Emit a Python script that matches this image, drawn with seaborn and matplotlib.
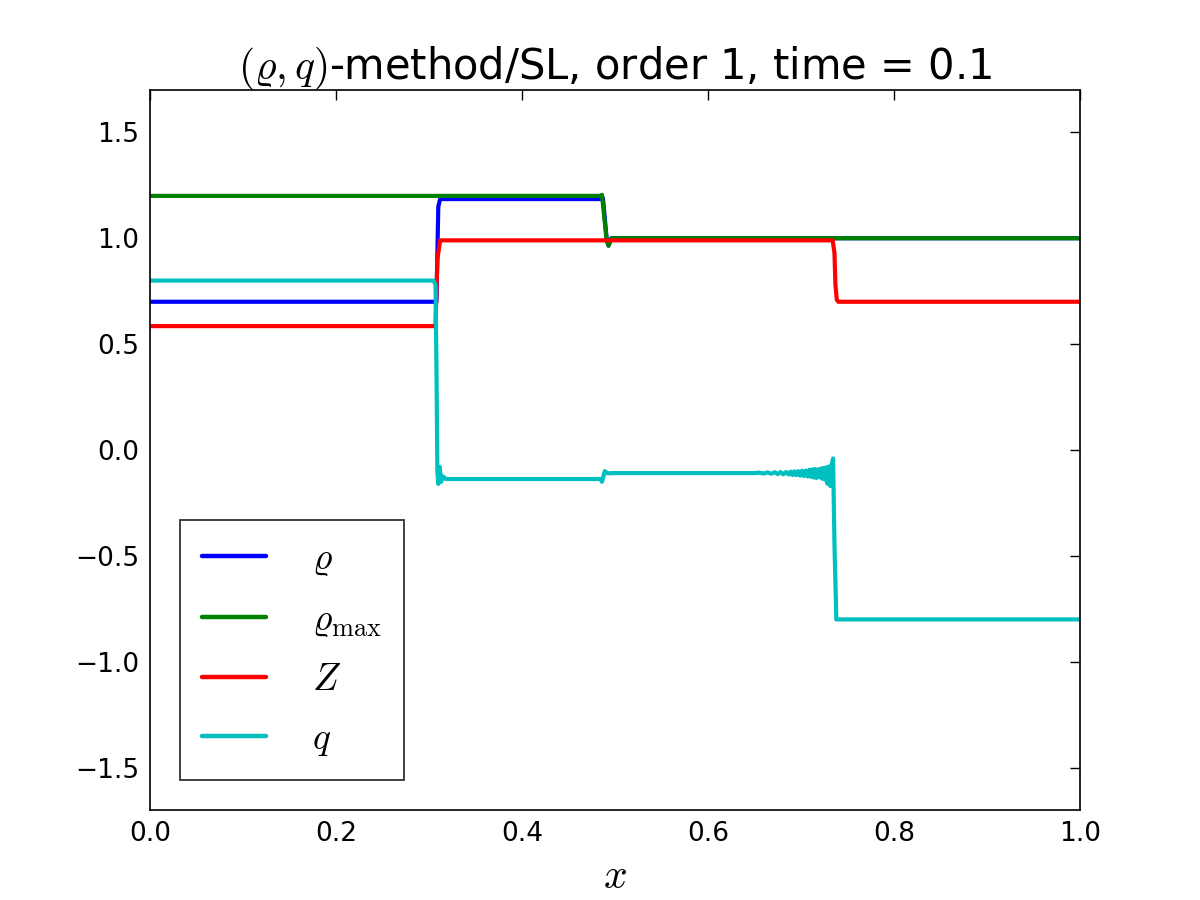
import pandas as pd
import seaborn as sns
import matplotlib
matplotlib.use("Agg")
import matplotlib.pyplot as plt

# rho
rho_x = [0.0, 0.308, 0.310, 0.312, 0.484, 0.487, 0.491, 0.493, 0.496, 1.0]
rho_y = [0.70, 0.70, 1.15, 1.185, 1.185, 1.19, 1.0, 0.965, 1.0, 1.0]

# rho_max
rmax_x = [0.0, 0.484, 0.486, 0.491, 0.493, 0.496, 1.0]
rmax_y = [1.20, 1.20, 1.205, 0.99, 0.965, 1.0, 1.0]

# Z
z_x = [0.0, 0.307, 0.309, 0.312, 0.734, 0.736, 0.737, 0.7385, 0.740, 1.0]
z_y = [0.585, 0.585, 0.90, 0.99, 0.99, 0.93, 0.78, 0.71, 0.70, 0.70]

# q
q_x = [0.0, 0.305, 0.307, 0.308, 0.309, 0.310, 0.3115, 0.313, 0.315, 0.318, 0.322,
       0.484, 0.486, 0.489, 0.492, 0.50, 0.65,
       0.655, 0.660, 0.664, 0.668, 0.672, 0.675, 0.678, 0.681, 0.684, 0.687,
       0.689, 0.691, 0.693, 0.695, 0.697, 0.699, 0.701, 0.703, 0.705, 0.707,
       0.709, 0.7105, 0.712, 0.7135, 0.715, 0.7165, 0.718, 0.7195, 0.721, 0.7225,
       0.724, 0.7255, 0.727, 0.7285, 0.730, 0.7315, 0.733, 0.7345, 0.736, 0.738, 1.0]
q_y = [0.80, 0.80, 0.78, 0.40, -0.10, -0.16, -0.08, -0.15, -0.125, -0.137, -0.137,
       -0.137, -0.15, -0.10, -0.11, -0.109, -0.109,
       -0.107, -0.111, -0.106, -0.112, -0.105, -0.114, -0.104, -0.115, -0.104, -0.116,
       -0.102, -0.118, -0.101, -0.119, -0.100, -0.121, -0.098, -0.123, -0.097, -0.125,
       -0.094, -0.126, -0.092, -0.130, -0.090, -0.132, -0.092, -0.128, -0.088, -0.135,
       -0.085, -0.140, -0.082, -0.160, -0.078, -0.170, -0.070, -0.040, -0.45, -0.80, -0.80]

labels = [r"$\varrho$", r"$\varrho_{\max}$", r"$Z$", r"$q$"]
colors = ["#0000ff", "#008000", "#ff0000", "#00bfbf"]

frames = []
for lab, xs, ys in zip(labels, [rho_x, rmax_x, z_x, q_x], [rho_y, rmax_y, z_y, q_y]):
    frames.append(pd.DataFrame({"x": xs, "y": ys, "series": lab}))
df = pd.concat(frames, ignore_index=True)

sns.set_style("white")
plt.rcParams["font.family"] = ["DejaVu Sans"]
plt.rcParams["mathtext.fontset"] = "cm"
plt.rcParams["xtick.direction"] = "in"
plt.rcParams["ytick.direction"] = "in"
plt.rcParams["text.color"] = "black"
plt.rcParams["axes.labelcolor"] = "black"

fig = plt.figure(figsize=(12, 9), dpi=100)
ax = fig.add_axes([0.125, 0.1, 0.775, 0.8])

sns.lineplot(data=df, x="x", y="y", hue="series", hue_order=labels,
             palette=dict(zip(labels, colors)), sort=False, estimator=None,
             linewidth=3.0, ax=ax)

ax.set_xlim(0, 1)
ax.set_ylim(-1.7, 1.7)
ax.set_xticks([0.0, 0.2, 0.4, 0.6, 0.8, 1.0])
ax.set_yticks([-1.5, -1.0, -0.5, 0.0, 0.5, 1.0, 1.5])
ax.tick_params(axis="both", which="major", labelsize=19, length=7, width=1,
               top=True, right=True, colors="black", labelcolor="black", pad=8)
for s in ax.spines.values():
    s.set_color("black")
    s.set_linewidth(1.2)

ax.set_title(r"$(\varrho, q)$-method/SL, order 1, time = 0.1", fontsize=30,
             pad=8, color="black")
ax.set_xlabel(r"$x$", fontsize=30, labelpad=6)
ax.set_ylabel("")

leg = ax.legend(loc="lower left", fontsize=27, handlelength=1.7, handletextpad=1.25,
                labelspacing=0.62, borderpad=0.58, borderaxespad=0.8,
                fancybox=False, frameon=True)
leg.get_frame().set_edgecolor("black")
leg.get_frame().set_linewidth(1.3)
for line in leg.get_lines():
    line.set_linewidth(3.2)

fig.savefig("out.png", dpi=100)
